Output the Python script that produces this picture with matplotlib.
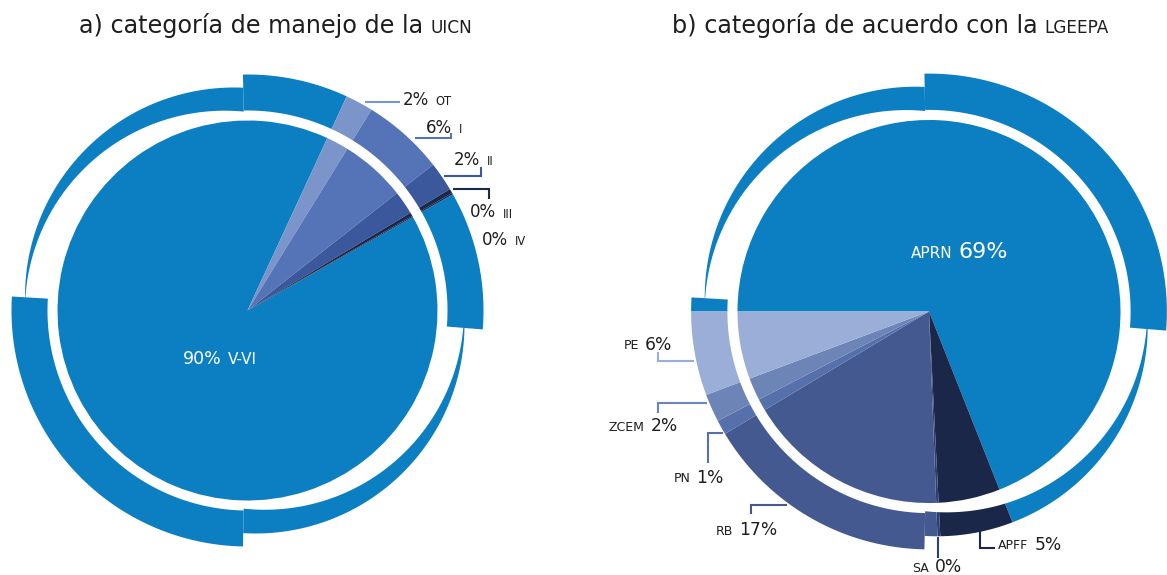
import numpy as np
import matplotlib
matplotlib.use("Agg")
import matplotlib.pyplot as plt
from matplotlib.patches import Polygon

# ---------------- data ----------------
# a) IUCN management category, share of protected surface (%)
uicn_labels = ["V-VI", "OT", "I", "II", "III", "IV"]
uicn_values = [90.1, 1.9, 5.6, 2.0, 0.3, 0.1]

# b) LGEEPA category, share of protected surface (%)
lgeepa_labels = ["APRN", "APFF", "SA", "RB", "PN", "ZCEM", "PE"]
lgeepa_values = [69.0, 5.2, 0.2, 17.0, 1.0, 1.9, 5.7]

# ---------------- style ----------------
uicn_colors = ["#0b7fc1", "#7b94c9", "#5574b7", "#3a589b", "#1b284e", "#1b284e"]
lgeepa_colors = ["#0b7fc1", "#1b2749", "#2c416f", "#43598f", "#5570ab",
                 "#6d84b6", "#9aaed7"]
TEXT = "#1e1e1e"

W, H = 1167, 575
fig = plt.figure(figsize=(W / 100, H / 100), dpi=100)
ax = fig.add_axes([0, 0, 1, 1])


def P(x, y):
    """Layout helper: pixel position measured from the top-left corner."""
    return x, H - y


# Outer ring split in four pieces; each piece is bounded by two circles
# (offset dx, dy from the pie centre, radius) between two polar angles.
RING_PIECES = [
    (-4.6, 91.1, (0.0, 0.0, 236.0), (0.0, 0.0, 200.0)),
    (91.1, 176.6, (-13.5, 14.0, 209.0), (-22.7, 0.0, 199.8)),
    (176.6, 268.9, (0.0, 0.0, 236.0), (0.0, 0.0, 200.0)),
    (268.9, 355.4, (8.0, -14.0, 209.0), (17.25, 0.0, 199.25)),
]
PIE_R = 190.0


def ray_hit(theta, circ):
    dx, dy, R = circ
    uo = np.cos(theta) * dx + np.sin(theta) * dy
    return uo + np.sqrt(uo ** 2 - (dx * dx + dy * dy) + R * R)


def piece_outline(center, scale, piece, n=300):
    t1, t2, outer, inner = piece
    th = np.radians(np.linspace(t1, t2, n))
    ro = ray_hit(th, outer) * scale
    ri = np.minimum(ray_hit(th, inner) * scale, ro)
    cx, cy = center
    xs = np.concatenate([cx + ro * np.cos(th), (cx + ri * np.cos(th))[::-1]])
    ys = np.concatenate([cy + ro * np.sin(th), (cy + ri * np.sin(th))[::-1]])
    return np.column_stack([xs, ys])


def draw_chart(center, scale, values, colors, startangle):
    kw = dict(colors=colors, startangle=startangle, counterclock=False,
              center=center, wedgeprops=dict(linewidth=0), frame=True)
    ax.pie(values, radius=PIE_R * scale, **kw)
    for piece in RING_PIECES:
        clip = Polygon(piece_outline(center, scale, piece), closed=True,
                       transform=ax.transData)
        wedges, _ = ax.pie(values, radius=260 * scale, **kw)
        for w in wedges:
            w.set_clip_path(clip)
            w.set_clip_on(True)


def label(x, y, parts, gap=4.5):
    """Text made of several runs of different sizes, sharing one baseline."""
    txt, size, color = parts[0]
    prev = ax.text(*P(x, y), txt, fontsize=size, color=color,
                   ha="left", va="baseline")
    prev_size = size
    for txt, size, color in parts[1:]:
        prev = ax.annotate(txt, xy=(1, 0), xycoords=prev,
                           xytext=(gap, 0.22 * prev_size),
                           textcoords="offset points", fontsize=size,
                           color=color, ha="left", va="baseline")
        prev_size = size


def leader(pts, color):
    xs, ys = zip(*[P(*p) for p in pts])
    ax.plot(xs, ys, color=color, lw=1.5, solid_capstyle="butt",
            solid_joinstyle="miter")


def pct(v):
    return f"{round(v):d}%"


# ---------------- chart a ----------------
ca = P(247.5, 310.5)
draw_chart(ca, 1.0, uicn_values, uicn_colors, 29.5)

u = dict(zip(uicn_labels, uicn_values))
uc = dict(zip(uicn_labels, uicn_colors))
leader([(365, 102), (400, 102)], uc["OT"])
leader([(415, 138.3), (450.7, 138.3), (450.7, 133)], uc["I"])
leader([(444, 176), (480.7, 176), (480.7, 166.7)], uc["II"])
leader([(452.7, 189.3), (489.3, 189.3), (489.3, 199.3)], uc["III"])

a_pos = {"OT": (402.7, 105), "I": (426, 132.7), "II": (454, 165),
         "III": (470, 217.3), "IV": (482.3, 245)}
for name, (x, y) in a_pos.items():
    label(x, y, [(pct(u[name]), 12, TEXT), (name, 8.3, TEXT)])
label(182.7, 364, [(pct(u["V-VI"]), 12.5, "white"), ("V-VI", 11, "white")])

# ---------------- chart b ----------------
cb = P(929, 311.5)
draw_chart(cb, 1.008, lgeepa_values, lgeepa_colors, 180)

g = dict(zip(lgeepa_labels, lgeepa_values))
gc = dict(zip(lgeepa_labels, lgeepa_colors))
leader([(694, 361), (658, 361), (658, 351.7)], gc["PE"])
leader([(706.7, 403.3), (658, 403.3), (658, 412.7)], gc["ZCEM"])
leader([(723.3, 432.7), (708.3, 432.7), (708.3, 463.3)], gc["PN"])
leader([(786.7, 505), (750.7, 505), (750.7, 514)], gc["RB"])
leader([(938.3, 536.7), (938.3, 558)], gc["SA"])
leader([(980, 528), (980, 548.3), (995, 548.3)], gc["APFF"])

b_pos = {"PE": (623.3, 349.3), "ZCEM": (608.3, 431), "PN": (673.3, 482.3),
         "RB": (715.7, 535), "SA": (911.7, 571.7), "APFF": (998.3, 549.3)}
for name, (x, y) in b_pos.items():
    label(x, y, [(name, 9, TEXT), (pct(g[name]), 12.3, TEXT)])
label(911, 258.3, [("APRN", 11, "white"), (pct(g["APRN"]), 16, "white")])

# ---------------- titles ----------------
label(79, 33, [("a) categoría de manejo de la", 17.2, TEXT),
               ("UICN", 12.2, TEXT)], gap=5.0)
label(672, 33, [("b) categoría de acuerdo con la", 17.2, TEXT),
                ("LGEEPA", 12.2, TEXT)], gap=5.0)

ax.set_xlim(0, W)
ax.set_ylim(0, H)
ax.set_aspect("equal")
ax.set_axis_off()
fig.savefig("out.png", dpi=100)
